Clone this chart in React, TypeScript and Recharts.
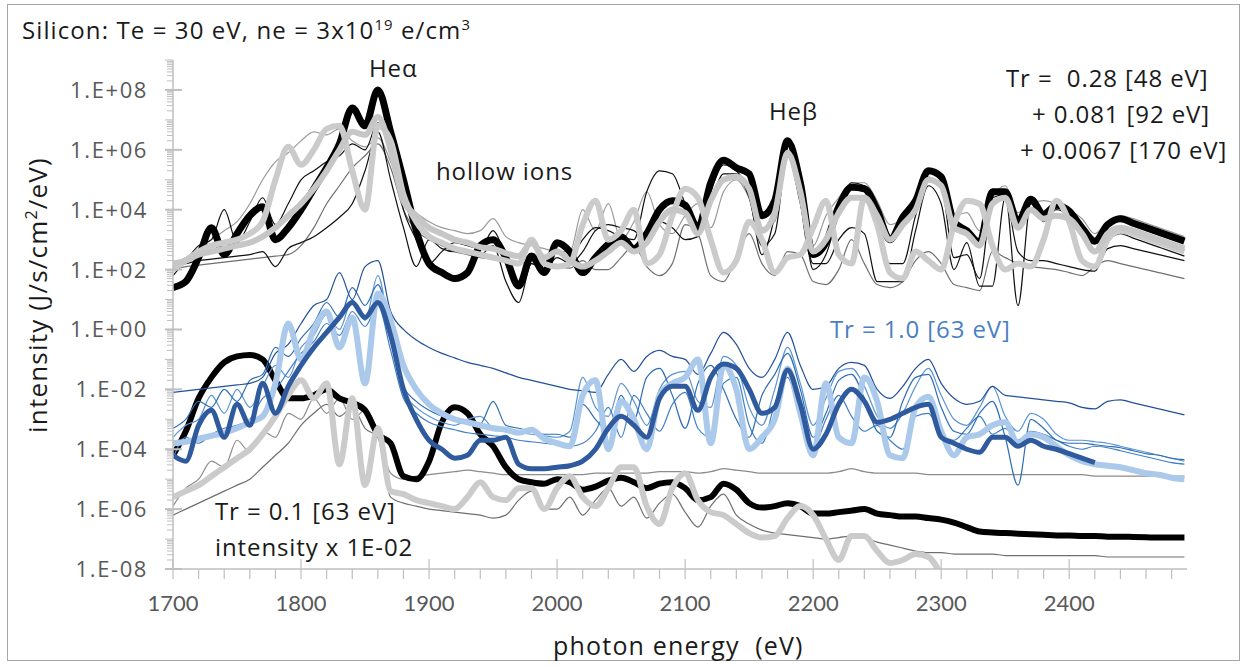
import type { ReactNode } from "react";
import { Line, LineChart, XAxis, YAxis } from "recharts";

// photon energy grid (eV)
const energy = [
  1700, 1710, 1720, 1730, 1740, 1750, 1760, 1770, 1780, 1790,
  1800, 1810, 1820, 1830, 1840, 1850, 1860, 1870, 1880, 1890,
  1900, 1910, 1920, 1930, 1940, 1950, 1960, 1970, 1980, 1990,
  2000, 2010, 2020, 2030, 2040, 2050, 2060, 2070, 2080, 2090,
  2100, 2110, 2120, 2130, 2140, 2150, 2160, 2170, 2180, 2190,
  2200, 2210, 2220, 2230, 2240, 2250, 2260, 2270, 2280, 2290,
  2300, 2310, 2320, 2330, 2340, 2350, 2360, 2370, 2380, 2390,
  2400, 2410, 2420, 2430, 2440, 2450, 2460, 2470, 2480, 2490,
];

// all intensities as log10 of J/s/cm2/eV

// Tr = 0.28 [48 eV] + 0.081 [92 eV] + 0.0067 [170 eV]
const topBlackThick = [
  1.4, 1.6, 2.4, 3.4, 2.5, 3.2, 3.8, 4.1, 3.0, 3.4,
  4.0, 4.7, 5.4, 6.2, 7.4, 6.8, 8.0, 6.6, 5.0, 3.3,
  2.2, 1.9, 1.7, 1.9, 2.8, 3.0, 2.4, 1.45, 2.45, 1.9,
  2.9, 2.6, 1.9, 2.4, 2.85, 3.1, 2.7, 3.2, 4.0, 4.3,
  4.15, 3.4, 4.9, 5.65, 5.4, 5.2, 3.8, 4.3, 6.3, 4.9,
  2.5, 2.9, 4.1, 4.75, 4.7, 4.0, 3.0, 3.75, 4.3, 5.3,
  5.1, 3.6, 3.3, 2.9, 4.6, 4.6, 3.6, 4.35, 3.85, 4.15,
  3.95, 3.4, 2.95, 3.5, 3.7, 3.55, 3.4, 3.25, 3.1, 2.95,
];
const topGrayThickA = [
  2.2, 2.3, 2.5, 2.6, 2.7, 2.8, 2.9, 3.1, 3.4, 3.8,
  4.2, 4.7, 5.3, 6.0, 6.6, 6.5, 7.1, 6.0, 4.3, 3.8,
  3.4, 3.2, 3.0, 2.9, 2.75, 2.7, 2.55, 2.45, 2.9, 2.4,
  2.6, 2.3, 2.1, 2.3, 2.6, 2.9, 2.6, 2.9, 3.6, 4.0,
  3.9, 3.2, 4.3, 5.0, 5.1, 4.7, 3.3, 3.9, 5.9, 4.6,
  2.6, 3.0, 3.9, 4.4, 4.4, 3.8, 3.0, 3.5, 4.0, 5.0,
  4.8, 3.4, 3.2, 2.8, 4.2, 4.4, 3.4, 4.0, 3.7, 3.8,
  3.7, 3.2, 2.6, 3.2, 3.4, 3.3, 3.15, 3.0, 2.85, 2.7,
];
const topGrayThickB = [
  2.0, 2.3, 2.6, 2.8, 2.9, 3.0, 3.2, 3.6, 5.0, 6.1,
  5.5, 6.0, 6.7, 6.8, 5.3, 4.0, 6.8, 6.3, 4.5, 3.6,
  3.1, 2.9, 2.7, 2.6, 2.5, 2.4, 2.3, 2.2, 3.0, 2.2,
  2.1, 2.2, 3.5, 4.3, 3.0, 3.3, 4.0, 2.2, 2.5, 3.8,
  4.7, 4.4, 3.0, 1.9, 2.3, 3.6, 3.0, 1.9, 2.4, 2.5,
  3.4, 4.3, 2.5, 2.2, 4.4, 3.5, 1.9, 1.7, 2.6, 2.3,
  2.0, 3.5, 4.3, 4.2, 2.8, 2.0, 2.2, 2.1, 3.0, 4.3,
  3.6, 2.3, 2.1, 3.0, 3.3, 3.2, 3.05, 2.9, 2.75, 2.6,
];
const topBlackThinLow = [
  2.1, 2.2, 2.3, 2.35, 2.4, 2.45, 2.5, 2.6, 2.1, 2.7,
  2.9, 3.1, 3.4, 3.75, 4.2, 5.3, 6.6, 5.0, 3.4, 2.1,
  3.0, 2.7, 2.6, 2.6, 2.5, 2.8, 1.6, 0.9, 2.2, 2.0,
  2.4, 2.2, 2.6, 3.3, 3.5, 3.4, 3.3, 3.0, 3.6, 3.4,
  3.0, 3.1, 4.2, 5.2, 5.2, 4.4, 2.8, 3.2, 5.8, 4.2,
  2.2, 2.2, 3.0, 3.4, 3.2, 1.6, 1.6, 1.6, 3.3, 4.8,
  4.2, 2.0, 2.9, 1.45, 1.45, 4.4, 2.6, 2.3, 2.3, 2.2,
  2.1, 2.0, 1.95, 2.7, 2.8, 2.7, 2.6, 2.5, 2.4, 2.3,
];
const topBlackThinHigh = [
  1.8, 2.3, 2.8, 3.0, 4.0, 2.9, 3.6, 4.4, 3.5, 4.2,
  5.0, 5.3, 5.6, 5.8, 6.2, 6.0, 6.9, 6.0, 4.0, 3.0,
  2.2, 2.6, 2.9, 2.8, 2.7, 3.3, 2.6, 2.5, 2.4, 2.4,
  2.6, 2.4, 3.0, 3.4, 3.3, 3.1, 3.0, 4.6, 5.3, 5.2,
  4.2, 3.2, 4.6, 5.5, 5.3, 4.5, 2.5, 3.8, 6.2, 4.7,
  2.0, 2.5, 3.9, 4.9, 4.8, 3.6, 2.2, 2.2, 3.8, 5.0,
  4.8, 2.4, 2.5, 1.7, 4.4, 4.5, 0.8, 4.2, 3.6, 4.0,
  3.8, 3.3, 2.6, 3.0, 3.2, 3.05, 2.9, 2.75, 2.6, 2.45,
];
const topGrayThin = [
  2.2, 2.4, 2.7, 3.0, 3.3, 3.6, 4.2, 5.0, 5.6, 5.9,
  6.3, 6.6, 6.5, 6.7, 6.3, 6.1, 6.4, 5.6, 4.4, 3.9,
  3.6, 3.4, 3.3, 3.2, 3.3, 3.7, 3.1, 2.9, 2.8, 2.7,
  2.6, 2.6, 4.0, 3.3, 4.2, 3.0, 3.6, 4.6, 3.5, 3.2,
  3.8, 4.2, 3.4, 4.6, 5.0, 4.4, 3.4, 3.6, 5.8, 4.6,
  2.8, 3.8, 4.4, 4.9, 4.9, 4.3, 3.5, 3.7, 4.1, 5.1,
  4.7, 3.8, 3.9, 3.3, 4.4, 4.8, 3.9, 4.2, 4.3, 4.2,
  4.0, 3.7, 3.2, 3.6, 3.8, 3.7, 3.55, 3.4, 3.25, 3.1,
];
const topDarkGrayThin = [
  2.0, 2.1, 2.15, 2.2, 2.25, 2.3, 2.35, 2.4, 2.45, 2.5,
  2.8, 3.4, 4.2, 4.8, 5.4, 5.8, 6.2, 5.4, 4.0, 3.3,
  3.0, 2.8, 2.6, 2.5, 2.4, 2.35, 2.3, 2.25, 2.2, 2.15,
  2.1, 2.05, 2.3, 2.0, 2.0, 2.4, 2.8, 2.1, 1.8, 2.2,
  3.5, 3.2, 1.8, 1.6, 2.4, 3.2, 2.2, 1.8, 2.6, 2.5,
  1.6, 1.5, 2.0, 3.0, 2.2, 1.5, 1.4, 1.6, 2.3, 2.6,
  2.2, 1.5, 1.4, 1.3, 2.6, 2.4, 2.2, 2.1, 2.05, 2.0,
  1.9, 1.8, 2.1, 2.3, 2.2, 2.1, 2.0, 1.9, 1.8, 1.7,
];

// Tr = 1.0 [63 eV]
const blueDarkThick = [
  -4.2, -4.4, -3.2, -2.7, -3.6, -2.5, -3.2, -1.8, -2.8, -1.9,
  -1.2, -0.6, -0.1, 0.4, 0.9, 0.4, 0.9, -0.2, -2.0, -3.0,
  -3.7, -4.0, -4.3, -4.2, -3.7, -3.7, -3.6, -4.5, -4.65, -4.65,
  -4.6, -4.55, -4.4, -4.0, -3.3, -2.9, -3.2, -3.6, -2.3, -1.9,
  -1.9, -2.7, -1.6, -1.15, -1.3, -2.0, -2.8, -2.6, -1.35, -2.5,
  -4.0, -3.5, -2.5, -2.0, -2.4, -3.1, -3.0, -2.8, -2.6, -2.5,
  -3.6, -3.8, -4.0, -4.1, -3.6, -3.6, -3.9, -3.7, -3.9, -4.0,
  -4.15, -4.3, -4.45, null, null, null, null, null, null, null,
];
const blueLightThick = [
  -3.8, -3.75, -3.65, -3.55, -3.45, -3.3, -3.1, -2.9, -1.8, 0.2,
  -1.0, 0.0, 0.6, -0.6, 0.4, -1.8, 1.2, 0.3, -1.2, -2.0,
  -2.5, -2.8, -3.0, -3.1, -3.2, -3.3, -3.35, -3.45, -3.35, -3.65,
  -3.8, -3.9, -2.2, -1.7, -4.0, -2.4, -3.0, -4.0, -2.2, -1.8,
  -1.6, -1.0, -3.8, -1.2, -2.0, -4.0, -3.6, -3.0, -1.3, -2.8,
  -4.2, -1.8, -3.6, -3.8, -1.6, -2.4, -4.2, -4.3, -2.6, -2.25,
  -3.4, -4.2, -3.6, -3.5, -3.2, -3.1, -3.8, -3.5, -3.6, -3.9,
  -4.2, -4.4, -4.5, -4.55, -4.6, -4.7, -4.8, -4.85, -4.95, -5.0,
];
const blueThinHigh = [
  -2.1, -2.05, -2.0, -1.95, -1.9, -1.85, -1.8, -1.6, -0.8, -0.5,
  0.2, 0.8, 1.0, 1.9, 1.0, 2.1, 2.3, 0.6, 0.0, -0.35,
  -0.6, -0.8, -0.95, -1.1, -1.2, -1.3, -1.45, -1.6, -1.7, -1.8,
  -1.9, -2.0, -2.05, -2.1, -1.5, -1.0, -1.4, -0.9, -0.7, -0.9,
  -1.0, -1.5, -0.8, -0.1, -0.5, -1.3, -1.6, -1.0, -0.1, -1.2,
  -2.0, -1.9, -1.3, -1.1, -1.2, -2.0, -2.3, -1.9, -1.3, -1.0,
  -1.8, -2.3, -2.5, -2.4, -1.9, -2.2, -2.25, -2.3, -2.35, -2.4,
  -2.45, -2.6, -2.65, -2.4, -2.35, -2.45, -2.55, -2.65, -2.75, -2.85,
];
const blueThinMid = [
  -3.3, -3.0, -2.4, -2.6, -2.0, -2.4, -1.7, -1.5, -0.6, -0.9,
  -0.3, 0.2, 0.9, 0.4, 1.4, 0.8, 1.5, 0.0, -1.9, -2.4,
  -2.7, -2.9, -3.0, -3.1, -3.15, -2.4, -3.2, -3.3, -3.4, -3.5,
  -3.5, -3.6, -2.5, -3.0, -3.4, -2.2, -3.0, -1.6, -1.3, -2.2,
  -3.3, -1.8, -1.2, -2.0, -3.0, -3.6, -2.2, -1.5, -0.8, -2.0,
  -3.6, -2.8, -1.7, -1.5, -2.3, -3.4, -3.6, -2.4, -1.6, -1.5,
  -2.6, -3.4, -3.5, -2.8, -2.4, -3.6, -5.2, -3.0, -3.3, -3.7,
  -3.8, -3.8, -3.85, -3.9, -3.95, -4.05, -4.15, -4.2, -4.3, -4.35,
];
const blueThinLow = [
  -4.3, -3.6, -3.8, -3.5, -3.3, -3.2, -3.0, -2.3, -2.0, -1.4,
  -0.8, -0.4, 0.2, -0.2, 0.6, 0.1, 0.8, -0.7, -2.3, -2.8,
  -3.1, -3.25, -3.35, -3.45, -3.5, -3.55, -3.6, -3.7, -3.75, -3.8,
  -3.85, -3.9, -3.8, -3.4, -2.6, -3.6, -2.2, -2.8, -3.4, -2.5,
  -2.1, -3.3, -3.6, -1.8, -1.6, -3.2, -3.8, -2.5, -1.6, -3.0,
  -3.9, -3.0, -2.2, -2.9, -3.4, -3.2, -3.7, -4.0, -2.9, -2.8,
  -3.5, -3.7, -3.3, -2.9, -3.5, -3.3, -3.7, -3.4, -3.5, -3.7,
  -3.9, -4.0, -3.9, -3.95, -4.05, -4.15, -4.25, -4.35, -4.45, -4.5,
];
const blueThinExtra = [
  -3.6, -3.2, -3.0, -2.2, -2.8, -2.0, -2.6, -1.9, -1.2, -1.6,
  -0.6, -0.2, 0.5, 0.0, 1.0, 0.3, 1.8, -0.3, -2.1, -2.6,
  -2.9, -3.1, -3.2, -3.0, -2.9, -3.3, -3.4, -3.45, -3.5, -3.55,
  -3.6, -3.4, -1.6, -2.6, -2.9, -1.8, -2.4, -3.2, -2.0, -1.5,
  -1.4, -2.4, -2.6, -0.9, -1.2, -2.6, -3.2, -2.0, -0.6, -1.8,
  -3.2, -2.3, -1.4, -1.3, -1.9, -2.9, -3.3, -2.8, -1.9, -1.3,
  -2.2, -3.0, -3.2, -2.6, -1.9, -2.9, -3.4, -2.8, -3.0, -3.5,
  -3.7, -3.7, -3.75, -3.8, -3.9, -4.0, -4.1, -4.2, -4.3, -4.4,
];

// Tr = 0.1 [63 eV], intensity x 1E-02
const bottomBlackThick = [
  -4.2, -3.4, -2.3, -1.6, -1.1, -0.9, -0.85, -1.0, -1.7, -2.3,
  -2.3, -2.2, -2.0, -2.3, -2.45, -2.7, -3.5, -3.8, -4.9, -5.0,
  -4.4, -3.1, -2.6, -2.8, -3.5, -3.9, -4.6, -5.0, -5.1, -5.15,
  -5.0, -5.1, -5.35, -5.25, -5.05, -4.95, -5.1, -5.3, -5.15, -5.1,
  -5.3, -5.7, -5.6, -5.15, -5.35, -5.8, -5.95, -5.9, -5.8, -5.9,
  -6.15, -6.15, -6.1, -6.05, -6.0, -6.15, -6.2, -6.25, -6.25, -6.3,
  -6.35, -6.45, -6.6, -6.75, -6.78, -6.8, -6.82, -6.84, -6.86, -6.88,
  -6.88, -6.9, -6.9, -6.92, -6.92, -6.93, -6.94, -6.95, -6.95, -6.95,
];
const bottomGrayThick = [
  -5.6, -5.4, -5.2, -4.9, -4.6, -4.3, -4.0, -3.5, -2.9, -2.2,
  -1.7, -2.3, -1.8, -4.5, -2.3, -5.2, -3.3, -5.4, -5.5, -5.7,
  -5.8, -5.9, -6.0, -5.6, -5.1, -5.6, -5.7, -5.3, -5.3, -6.0,
  -5.3, -4.9, -5.6, -5.9, -5.3, -4.6, -4.6, -5.9, -6.5, -5.3,
  -4.8, -5.7, -6.1, -6.2, -6.5, -6.8, -6.95, -6.9, -6.3, -5.9,
  -6.2, -7.0, -7.7, -6.9, -6.9, -7.4, -7.8, -7.7, -7.5, -7.6,
  -8.2, null, null, null, null, null, null, null, null, null,
  null, null, null, null, null, null, null, null, null, null,
];
const bottomGrayThin = [
  -5.9, -5.3, -5.0, -4.4, -4.6, -3.7, -4.1, -3.4, -3.6, -2.8,
  -3.0, -2.3, -2.8, -2.3, -3.0, -2.7, -3.4, -4.8, -5.0, -4.9,
  -4.85, -4.8, -4.75, -4.7, -4.75, -4.8, -4.85, -4.85, -4.85, -4.85,
  -4.85, -4.85, -4.85, -4.8, -4.8, -4.8, -4.8, -4.8, -4.75, -4.75,
  -4.75, -4.8, -4.75, -4.65, -4.7, -4.75, -4.8, -4.8, -4.8, -4.8,
  -4.8, -4.8, -4.75, -4.65, -4.75, -4.8, -4.8, -4.8, -4.8, -4.85,
  -4.85, -4.85, -4.85, -4.85, -4.85, -4.85, -4.85, -4.85, -4.85, -4.85,
  -4.85, -4.85, -4.9, -4.9, -4.9, -4.9, -4.9, -4.9, -4.9, -4.9,
];
const bottomDarkGrayThin = [
  -6.2, -6.0, -5.8, -5.6, -5.4, -5.2, -5.0, -4.6, -4.2, -3.8,
  -3.2, -2.8, -2.5, -2.9, -2.6, -3.3, -3.6, -5.6, -5.8, -5.9,
  -6.0, -6.05, -6.1, -6.15, -6.2, -6.3, -6.2, -5.7, -5.4, -6.0,
  -6.0, -5.6, -6.2, -5.7, -5.3, -5.9, -5.6, -6.3, -5.8, -5.5,
  -6.1, -6.6, -5.9, -5.5, -6.2, -6.5, -6.7, -6.8, -6.85, -6.9,
  -6.95, -7.0, -6.95, -6.9, -6.95, -7.1, -7.2, -7.3, -7.4, -7.45,
  -7.45, -7.5, -7.5, -7.5, -7.5, -7.55, -7.55, -7.55, -7.55, -7.55,
  -7.55, -7.55, -7.55, -7.6, -7.6, -7.6, -7.6, -7.6, -7.6, -7.6,
];

const decades = [-8, -7, -6, -5, -4, -3, -2, -1, 0, 1, 2, 3, 4, 5, 6, 7, 8, 9];
const labelledDecades = [-8, -6, -4, -2, 0, 2, 4, 6, 8];
const minorFactors = [2, 3, 4, 5, 6, 7, 8, 9];
const xLabels = [1700, 1800, 1900, 2000, 2100, 2200, 2300, 2400];
const xStep = 20;

const FONT = "'Open Sans', Lato, sans-serif";
const TICK_FONT = "Lato, 'Open Sans', sans-serif";
const AXIS = "#bfbfbf";
const TICK_TEXT = "#595959";
const INK = "#1a1a1a";

// drawing order: thin lines under thick ones
const series = [
  { key: "gt2", values: topDarkGrayThin, color: "#6f6f6f", width: 1.2 },
  { key: "gt1", values: topGrayThin, color: "#9a9a9a", width: 1.2 },
  { key: "tk1", values: topBlackThinLow, color: "#111111", width: 1.2 },
  { key: "tk2", values: topBlackThinHigh, color: "#111111", width: 1.2 },
  { key: "tb", values: topBlackThick, color: "#000000", width: 7 },
  { key: "tgb", values: topGrayThickB, color: "#cbcbcb", width: 6 },
  { key: "tga", values: topGrayThickA, color: "#c6c6c6", width: 6 },
  { key: "kt2", values: bottomDarkGrayThin, color: "#6f6f6f", width: 1.2 },
  { key: "kt1", values: bottomGrayThin, color: "#8c8c8c", width: 1.2 },
  { key: "kb", values: bottomBlackThick, color: "#000000", width: 6 },
  { key: "kg", values: bottomGrayThick, color: "#cbcbcb", width: 6 },
  { key: "bt4", values: blueThinExtra, color: "#5b95d3", width: 1.2 },
  { key: "bt3", values: blueThinLow, color: "#3f7fc6", width: 1.2 },
  { key: "bt2", values: blueThinMid, color: "#2e6db4", width: 1.2 },
  { key: "bt1", values: blueThinHigh, color: "#22509c", width: 1.2 },
  { key: "bl", values: blueLightThick, color: "#abc9ea", width: 6 },
  { key: "bd", values: blueDarkThick, color: "#2f5a9e", width: 5 },
];

const rows = energy.map((e, i) => {
  const row: Record<string, number | null> = { e };
  series.forEach((s) => {
    row[s.key] = s.values[i];
  });
  return row;
});

const yTicks = decades
  .flatMap((d) => [d, ...minorFactors.map((k) => d + Math.log10(k))])
  .filter((v) => v <= 9);

const xTicks: number[] = [];
for (let v = xLabels[0]; v < 2490; v += xStep) xTicks.push(v);

function expLabel(d: number) {
  return `1.E${d < 0 ? "-" : "+"}${String(Math.abs(d)).padStart(2, "0")}`;
}

function YTick(props: any) {
  const { x, y, payload } = props;
  const v = payload.value as number;
  const d = Math.round(v);
  const isDecade = Math.abs(v - d) < 1e-9;
  const labelled = isDecade && labelledDecades.includes(d);
  return (
    <g>
      <line x1={x - (isDecade ? 8 : 6)} x2={x + (labelled ? 9 : 0)} y1={y} y2={y} stroke={AXIS} strokeWidth={labelled ? 2 : 1} />
      {labelled && (
        <text x={x - 25} y={y} dy="0.36em" textAnchor="end" fontSize={22} letterSpacing={1.6} fill={TICK_TEXT} fontFamily={FONT}>
          {expLabel(d)}
        </text>
      )}
    </g>
  );
}

function XTick(props: any) {
  const { x, y, payload } = props;
  const v = payload.value as number;
  const major = xLabels.includes(v);
  return (
    <g>
      <line x1={x} x2={x} y1={major ? y - 10 : y} y2={y + 10} stroke={AXIS} strokeWidth={1.2} />
      {major && (
        <text x={x} y={y + 34} dy="0.36em" textAnchor="middle" fontSize={22} fill={TICK_TEXT} fontFamily={TICK_FONT}>
          {v}
        </text>
      )}
    </g>
  );
}

function Note({ left, top, size = 24, spacing = 0.9, color = INK, children }: { left: number; top: number; size?: number; spacing?: number; color?: string; children: ReactNode }) {
  return (
    <div style={{ position: "absolute", left, top, fontSize: size, lineHeight: 1, letterSpacing: spacing, color, whiteSpace: "nowrap", fontFamily: FONT }}>
      {children}
    </div>
  );
}

const sup = { fontSize: "0.62em", verticalAlign: "0.6em", lineHeight: 0 } as const;

export default function App() {
  return (
    <div style={{ position: "absolute", left: 0, top: 0, width: 1250, height: 668, background: "#fff", fontFamily: FONT }}>
      <div style={{ position: "absolute", left: 7, top: 4, width: 1233, height: 657, border: "1px solid #a6a6a6", boxSizing: "border-box" }} />
      <LineChart width={1250} height={668} data={rows} margin={{ top: 60, right: 63, bottom: 39, left: 73 }}>
        <XAxis
          dataKey="e"
          type="number"
          domain={[1700, 2492]}
          ticks={xTicks}
          interval={0}
          tick={(p: any) => <XTick {...p} />}
          tickLine={false}
          tickSize={0}
          tickMargin={0}
          axisLine={{ stroke: AXIS, strokeWidth: 1.5 }}
          height={60}
          allowDataOverflow
        />
        <YAxis
          type="number"
          domain={[-8, 9]}
          ticks={yTicks}
          interval={0}
          tick={(p: any) => <YTick {...p} />}
          tickLine={false}
          tickSize={0}
          tickMargin={0}
          axisLine={{ stroke: AXIS, strokeWidth: 1.5 }}
          width={100}
          allowDataOverflow
        />
        {series.map((s) => (
          <Line
            key={s.key}
            dataKey={s.key}
            type="monotone"
            stroke={s.color}
            strokeWidth={s.width}
            strokeLinejoin="round"
            dot={false}
            activeDot={false}
            connectNulls={false}
            isAnimationActive={false}
          />
        ))}
      </LineChart>

      <Note left={22} top={18} size={24} spacing={1.1}>
        Silicon: Te = 30 eV, ne = 3x10<span style={sup}>19</span> e/cm<span style={sup}>3</span>
      </Note>
      <Note left={369} top={56}>Heα</Note>
      <Note left={436} top={159}>hollow ions</Note>
      <Note left={769} top={99}>Heβ</Note>
      <Note left={1006} top={66}>Tr =&nbsp; 0.28 [48 eV]</Note>
      <Note left={1032} top={102}>+ 0.081 [92 eV]</Note>
      <Note left={1020} top={138}>+ 0.0067 [170 eV]</Note>
      <Note left={830} top={317} color="#4a7fc3">Tr = 1.0 [63 eV]</Note>
      <Note left={215} top={499}>Tr = 0.1 [63 eV]</Note>
      <Note left={215} top={535}>intensity x 1E-02</Note>
      <div
        style={{
          position: "absolute",
          left: 37 - 200,
          top: 295 - 14,
          width: 400,
          textAlign: "center",
          fontSize: 26,
          lineHeight: "28px",
          letterSpacing: 1.2,
          color: INK,
          transform: "rotate(-90deg)",
          whiteSpace: "nowrap",
          fontFamily: FONT,
        }}
      >
        intensity (J/s/cm<span style={sup}>2</span>/eV)
      </div>
      <Note left={553} top={633} size={25} spacing={1.2}>photon energy&nbsp; (eV)</Note>
    </div>
  );
}
